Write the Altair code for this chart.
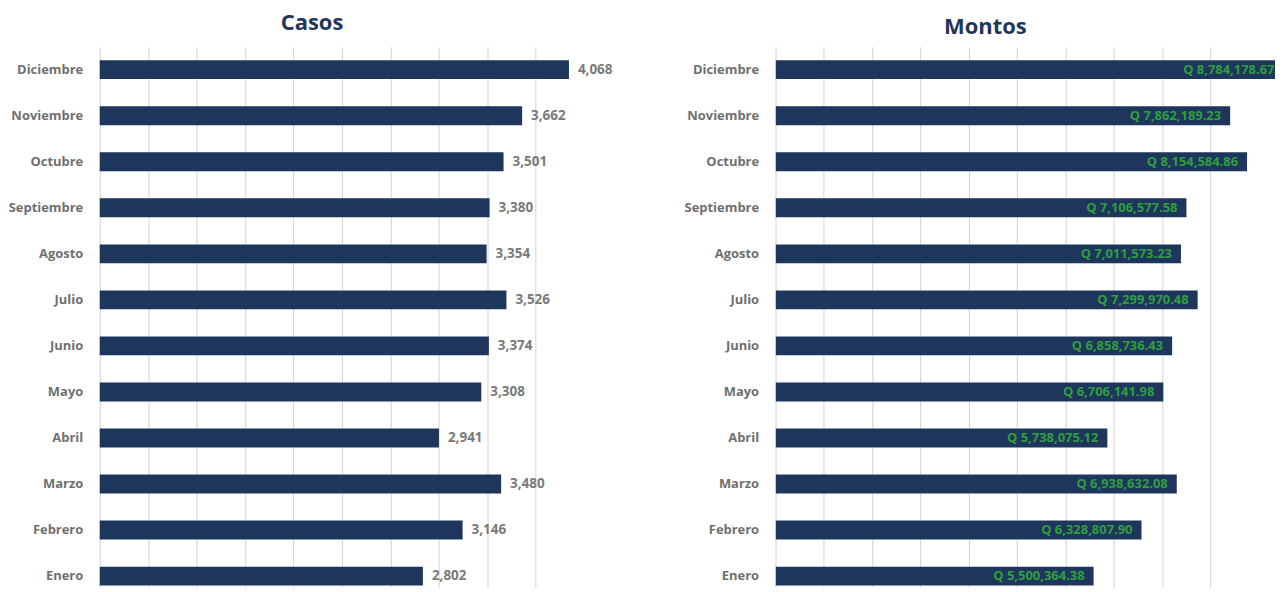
import altair as alt
import pandas as pd

meses = ["Enero", "Febrero", "Marzo", "Abril", "Mayo", "Junio", "Julio",
         "Agosto", "Septiembre", "Octubre", "Noviembre", "Diciembre"]
casos = [2802, 3146, 3480, 2941, 3308, 3374, 3526, 3354, 3380, 3501, 3662, 4068]
montos = [5500364.38, 6328807.90, 6938632.08, 5738075.12, 6706141.98, 6858736.43,
          7299970.48, 7011573.23, 7106577.58, 8154584.86, 7862189.23, 8784178.67]
grid_casos = [0, 420, 840, 1260, 1680, 2100, 2520, 2940, 3360, 3780]
grid_montos = [0, 836000, 1672000, 2508000, 3344000, 4180000, 5016000,
               5852000, 6688000, 7524000]

df = pd.DataFrame({"mes": meses, "casos": casos, "monto": montos})
orden = meses[::-1]

NAVY = "#1f365c"
FONT = "Open Sans"
GRID = "#d3d3d3"


def y_enc():
    return alt.Y(
        "mes:N", sort=orden, title=None,
        scale=alt.Scale(paddingInner=0.59, paddingOuter=0.163, align=0.896),
        axis=alt.Axis(domain=False, ticks=False, grid=False, labelPadding=17,
                      labelFont=FONT, labelFontWeight="bold", labelFontSize=13,
                      labelColor="#6f6f6f"),
    )


x_l = alt.X("casos:Q", title=None,
            scale=alt.Scale(domain=[0, 4200], nice=False, zero=True),
            axis=alt.Axis(values=grid_casos, labels=False, ticks=False, domain=False,
                          grid=True, gridColor=GRID, gridWidth=1))

bars_l = alt.Chart(df).mark_bar(color=NAVY).encode(x=x_l, y=y_enc())
text_l = alt.Chart(df).mark_text(
    align="left", dx=9, font=FONT, fontWeight="bold", fontSize=13.5, color="#7a7a7a"
).encode(x=x_l, y=y_enc(), text=alt.Text("casos:Q", format=","))

left = alt.layer(bars_l, text_l).properties(
    width=486, height=542,
    title=alt.TitleParams("Casos", font=FONT, fontSize=22, fontWeight="bold",
                          color=NAVY, anchor="middle", dx=-30, offset=12),
)

x_r = alt.X("monto:Q", title=None,
            scale=alt.Scale(domain=[0, 8637931], nice=False, zero=True),
            axis=alt.Axis(values=grid_montos, labels=False, ticks=False, domain=False,
                          grid=True, gridColor=GRID, gridWidth=1))

bars_r = alt.Chart(df).mark_bar(color=NAVY, clip=True).encode(x=x_r, y=y_enc())
text_r = alt.Chart(df).transform_calculate(
    etiqueta="'Q ' + format(datum.monto, ',.2f')"
).mark_text(
    align="right", dx=-9, font=FONT, fontWeight="bold", fontSize=13, color="#2e9e3e"
).encode(x=x_r, y=y_enc(), text="etiqueta:N")

right = alt.layer(bars_r, text_r).properties(
    width=501, height=542,
    title=alt.TitleParams("Montos", font=FONT, fontSize=22, fontWeight="bold",
                          color=NAVY, anchor="middle", dx=-40, offset=8),
)

chart = alt.hconcat(left, right, spacing=192, bounds="flush").properties(
    padding={"left": 0, "top": 3, "right": 0, "bottom": 0},
    background="white",
).configure_view(strokeWidth=0)

chart.save("out.html", embed_options={"renderer": "svg", "actions": False})
